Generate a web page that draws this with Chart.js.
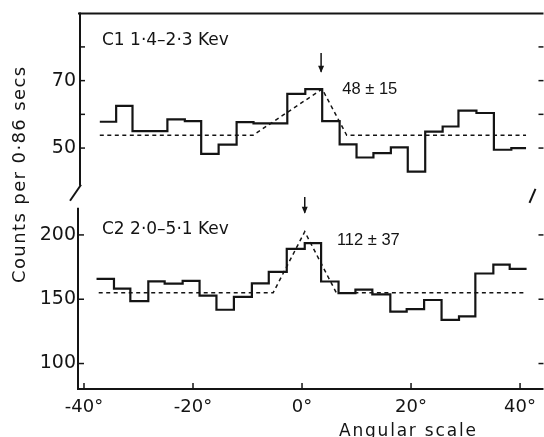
<!DOCTYPE html>
<html>
<head>
<meta charset="utf-8">
<script src="https://cdn.jsdelivr.net/npm/chart.js@4"></script>
<style>
  html, body { margin: 0; padding: 0; background: #fff; }
</style>
</head>
<body>
<canvas id="chart" width="544" height="437"></canvas>
<script>
// bin edges (degrees) and counts
const upperEdges = [-37.1, -34.1, -31.1, -27.9, -24.7, -21.5, -18.5, -15.3, -12.0, -8.9, -5.8, -2.7, 0.6, 3.7, 6.9, 10.0, 13.1, 16.3, 19.4, 22.6, 25.8, 28.7, 32.0, 35.2, 38.4, 41.1]
const upperCounts = [57.8, 62.5, 55.0, 55.0, 58.5, 58.0, 48.3, 51.0, 57.7, 57.3, 57.3, 66.1, 67.5, 58.0, 51.1, 47.2, 48.5, 50.2, 43.0, 54.9, 56.4, 61.1, 60.4, 49.5, 50.0]
const upperModelX = [-37.1, -9.0, 3.7, 8.2, 41.1]
const upperModelY = [53.8, 53.8, 67.5, 53.8, 53.8]

const lowerEdges = [-37.7, -34.5, -31.5, -28.2, -25.2, -21.9, -18.8, -15.7, -12.5, -9.2, -6.1, -2.8, 0.5, 3.5, 6.7, 9.8, 12.9, 16.2, 19.2, 22.4, 25.6, 28.8, 31.8, 35.1, 38.1, 41.2]
const lowerCounts = [165.8, 158.2, 148.6, 163.9, 162.1, 164.2, 152.8, 141.8, 151.8, 162.3, 171.3, 189.2, 193.6, 163.8, 154.8, 157.5, 153.7, 140.4, 142.3, 149.4, 133.9, 136.7, 170.0, 176.9, 173.6]
const lowerModelX = [-37.3, -5.3, 0.5, 6.3, 41.2]
const lowerModelY = [155, 155, 202.5, 155, 155]

const xTicks = [-40, -20, 0, 20, 40]
const upperTicks = [50, 60, 70, 80]
const upperLabels = [50, 70]
const lowerTicks = [100, 150, 200]

const ink = '#141414'

const steps = (edges, counts) => edges.map((e, i) => ({ x: e, y: counts[Math.min(i, counts.length - 1)] }))
const pairs = (xs, ys) => xs.map((v, i) => ({ x: v, y: ys[i] }))
const fixTicks = values => s => { s.ticks = values.map(v => ({ value: v })) }

// labels and arrows placed in data coordinates
const notes = [
  { text: 'C1 1·4–2·3 Kev', x: -36.7, y: 80.6, axis: 'yTop', font: '17px "DejaVu Sans"' },
  { text: '48 ± 15', x: 7.4, y: 66.1, axis: 'yTop', font: '16.5px "Liberation Sans"' },
  { text: 'C2 2·0–5·1 Kev', x: -36.7, y: 200.8, axis: 'yBot', font: '17px "DejaVu Sans"' },
  { text: '112 ± 37', x: 6.4, y: 192.3, axis: 'yBot', font: '16.5px "Liberation Sans"' },
]
const arrows = [
  { x: 3.5, from: 78.2, to: 72.6, axis: 'yTop' },
  { x: 0.5, from: 229.5, to: 217.2, axis: 'yBot' },
]

const frame = {
  id: 'frame',
  afterDatasetsDraw(chart) {
    const { ctx, chartArea: a, scales } = chart
    const { x, yTop, yBot } = scales
    const split = yTop.bottom
    const line = (x1, y1, x2, y2) => { ctx.beginPath(); ctx.moveTo(x1, y1); ctx.lineTo(x2, y2); ctx.stroke() }
    ctx.save()
    ctx.strokeStyle = ink
    ctx.fillStyle = ink
    ctx.lineWidth = 2
    line(a.left, a.top, a.right, a.top)
    line(a.left - 1, a.bottom, a.right, a.bottom)
    line(a.left + 2, a.top - 1, a.left + 2, split - 9)
    line(a.left - 8, split + 6, a.left + 3, split - 10)
    line(a.left, split + 13, a.left, a.bottom + 1)
    line(a.right - 14, split + 8, a.right - 8, split - 6)

    ctx.lineWidth = 1.5
    upperTicks.forEach(v => {
      const y = yTop.getPixelForValue(v)
      line(a.left + 1, y, a.left + 7, y)
      line(a.right - 5, y, a.right, y)
    })
    lowerTicks.forEach(v => {
      const y = yBot.getPixelForValue(v)
      line(a.left, y, a.left + 6, y)
      line(a.right - 5, y, a.right, y)
    })
    xTicks.forEach(v => {
      const px = x.getPixelForValue(v)
      line(px, a.bottom, px, a.bottom - 6)
    })

    arrows.forEach(ar => {
      const px = x.getPixelForValue(ar.x)
      const y1 = scales[ar.axis].getPixelForValue(ar.from)
      const y2 = scales[ar.axis].getPixelForValue(ar.to)
      ctx.lineWidth = 1.5
      line(px, y1, px, y2)
      ctx.beginPath()
      ctx.moveTo(px - 3, y2 - 6)
      ctx.lineTo(px, y2 + 1)
      ctx.lineTo(px + 3, y2 - 6)
      ctx.closePath()
      ctx.fill()
    })

    ctx.textBaseline = 'alphabetic'
    ctx.textAlign = 'left'
    notes.forEach(n => {
      ctx.font = n.font
      ctx.fillText(n.text, x.getPixelForValue(n.x), scales[n.axis].getPixelForValue(n.y))
    })

    ctx.font = '17px "DejaVu Sans"'
    ctx.letterSpacing = '1.8px'
    ctx.textAlign = 'center'
    ctx.fillText('Angular scale', x.getPixelForValue(19.5), a.bottom + 47)

    ctx.font = '18px "DejaVu Sans"'
    ctx.letterSpacing = '1.4px'
    ctx.translate(25, (yTop.top + yBot.bottom) / 2 - 27)
    ctx.rotate(-Math.PI / 2)
    ctx.fillText('Counts per 0·86 secs', 0, 0)
    ctx.restore()
  }
}

const yBase = {
  type: 'linear',
  position: 'left',
  stack: 'panels',
  grid: { display: false, drawTicks: false },
  border: { display: false },
  afterFit: s => { s.width = 78 },
}

const ctx = document.getElementById('chart').getContext('2d')
const chart = new Chart(ctx, {
  type: 'line',
  data: {
    datasets: [
      { data: steps(upperEdges, upperCounts), yAxisID: 'yTop', stepped: 'before', borderWidth: 2.2 },
      { data: pairs(upperModelX, upperModelY), yAxisID: 'yTop', borderWidth: 1.5, borderDash: [4, 3.5] },
      { data: steps(lowerEdges, lowerCounts), yAxisID: 'yBot', stepped: 'before', borderWidth: 2.2 },
      { data: pairs(lowerModelX, lowerModelY), yAxisID: 'yBot', borderWidth: 1.5, borderDash: [4, 3.5] },
    ].map(d => Object.assign({ borderColor: ink, pointRadius: 0, fill: false, tension: 0, borderJoinStyle: 'miter' }, d))
  },
  options: {
    responsive: false,
    devicePixelRatio: 1,
    animation: false,
    events: [],
    layout: { padding: { top: 8, left: 0, right: 0, bottom: 0 } },
    plugins: { legend: { display: false }, tooltip: { enabled: false } },
    scales: {
      x: {
        type: 'linear',
        min: -41.1,
        max: 44.3,
        grid: { display: false, drawTicks: false },
        border: { display: false },
        afterFit: s => { s.height = 48 },
        afterBuildTicks: fixTicks(xTicks),
        ticks: {
          maxRotation: 0,
          autoSkip: false,
          padding: 8,
          color: ink,
          font: { family: 'DejaVu Sans', size: 18 },
          callback: v => v + '°',
        },
      },
      yBot: Object.assign({}, yBase, {
        stackWeight: 197,
        min: 80.2,
        max: 231.2,
        afterBuildTicks: fixTicks(lowerTicks),
        ticks: { padding: 2, color: ink, font: { family: 'DejaVu Sans', size: 19 } },
      }),
      yTop: Object.assign({}, yBase, {
        stackWeight: 184,
        min: 36.14,
        max: 89.94,
        afterBuildTicks: fixTicks(upperTicks),
        ticks: {
          padding: 2,
          color: ink,
          font: { family: 'DejaVu Sans', size: 19 },
          callback: v => upperLabels.includes(v) ? String(v) : '',
        },
      }),
    }
  },
  plugins: [frame]
})
</script>
</body>
</html>
